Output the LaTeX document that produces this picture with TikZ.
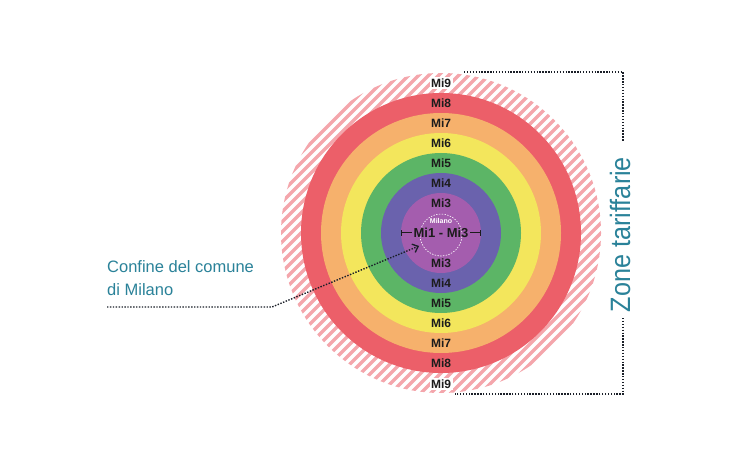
\documentclass[tikz,border=0pt]{standalone}
\usepackage{fontspec}
\setmainfont{Liberation Sans}
\usetikzlibrary{arrows.meta,calc}
\definecolor{cRed}{HTML}{EC5F69}
\definecolor{cOrange}{HTML}{F6B16C}
\definecolor{cYellow}{HTML}{F3E65C}
\definecolor{cGreen}{HTML}{5CB566}
\definecolor{cBlue}{HTML}{6A62AD}
\definecolor{cMauve}{HTML}{A45DAE}
\definecolor{cHatch}{HTML}{F4A6AC}
\definecolor{cTeal}{HTML}{2A8299}
\definecolor{cInk}{HTML}{1C1C1C}
\definecolor{cLead}{HTML}{1A1F28}
\begin{document}
\begin{tikzpicture}[x=1pt,y=-1pt,
  lab/.style={font=\bfseries\fontsize{12}{12}\selectfont, text=cInk, inner sep=0.6pt},
  labw/.style={lab, fill=white, inner sep=1.5pt},
  hatchline/.style={cHatch, line width=3.4pt},
  leader/.style={cLead, line width=1.4pt, dash pattern=on 1.4pt off 1.5pt},
  barline/.style={cInk, line width=1pt}]
\useasboundingbox (0,0) rectangle (738,462);
\fill[white] (0,0) rectangle (738,462);
\coordinate (c) at (441,233);
\begin{scope}
  \clip (c) circle (160pt);
  \foreach \k in {-350,-340,...,350}
    \draw[hatchline] ([xshift=\k pt]c) ++(-180,180) -- ++(360,-360);
\end{scope}
\fill[cRed] (c) circle (140pt);
\fill[cOrange] (c) circle (120pt);
\fill[cYellow] (c) circle (100pt);
\fill[cGreen] (c) circle (80pt);
\fill[cBlue] (c) circle (60pt);
\fill[cMauve] (c) circle (40pt);
\coordinate (mc) at (441,235);
\draw[white, line width=0.6pt, dash pattern=on 1.4pt off 1.4pt] (mc) circle (21pt);
% labels
\node[labw] (t9) at (441,83) {Mi9};
\node[lab] (t8) at (441,103) {Mi8};
\node[lab] (t7) at (441,123) {Mi7};
\node[lab] (t6) at (441,143) {Mi6};
\node[lab] (t5) at (441,163) {Mi5};
\node[lab] (t4) at (441,183) {Mi4};
\node[lab] (t3) at (441,203) {Mi3};
\node[lab] (b3) at (441,263) {Mi3};
\node[lab] (b4) at (441,283) {Mi4};
\node[lab] (b5) at (441,303) {Mi5};
\node[lab] (b6) at (441,323) {Mi6};
\node[lab] (b7) at (441,343) {Mi7};
\node[lab] (b8) at (441,363) {Mi8};
\node[labw] (b9) at (441,384) {Mi9};
\node[font=\bfseries\fontsize{7}{7}\selectfont, text=white, inner sep=0.5pt] (mil) at (441,221) {Milano};
\node[font=\bfseries\fontsize{13}{13}\selectfont, text=cInk, inner sep=1.5pt] (mi13) at (441,233) {Mi1 - Mi3};
\coordinate (barL) at (401,233);
\coordinate (barR) at (481,233);
\draw[barline, {Bar[width=6pt]}-] (barL) -- (mi13.west);
\draw[barline, -{Bar[width=6pt]}] (mi13.east) -- (barR);
% left callout
\node[font=\fontsize{16.5}{23}\selectfont, text=cTeal, align=left, anchor=north west, inner sep=0pt] (conf) at (107,260) {Confine del comune\\di Milano};
\coordinate (l0) at (107,307);
\coordinate (l1) at (272,307);
\coordinate (l2) at (419,246);
\draw[leader] (l0) -- (l1) -- (l2);
\draw[cLead, line width=1.3pt, -{Straight Barb[length=5pt,width=9pt]}] ($(l2)!0.01!(l1)$) -- (l2);
% right bracket
\node[rotate=90, font=\fontsize{28}{28}\selectfont, text=cTeal, inner sep=0pt] (zone) at (620,234.5) {\scalebox{0.9}[1]{Zone tariffarie}};
\coordinate (r0) at (464,72);
\coordinate (r1) at (623,72);
\coordinate (r2) at (623,142);
\coordinate (r3) at (623,318);
\coordinate (r4) at (623,394);
\coordinate (r5) at (455,394);
\draw[leader] (r0) -- (r1) -- (r2);
\draw[leader] (r3) -- (r4) -- (r5);
\end{tikzpicture}
\end{document}
